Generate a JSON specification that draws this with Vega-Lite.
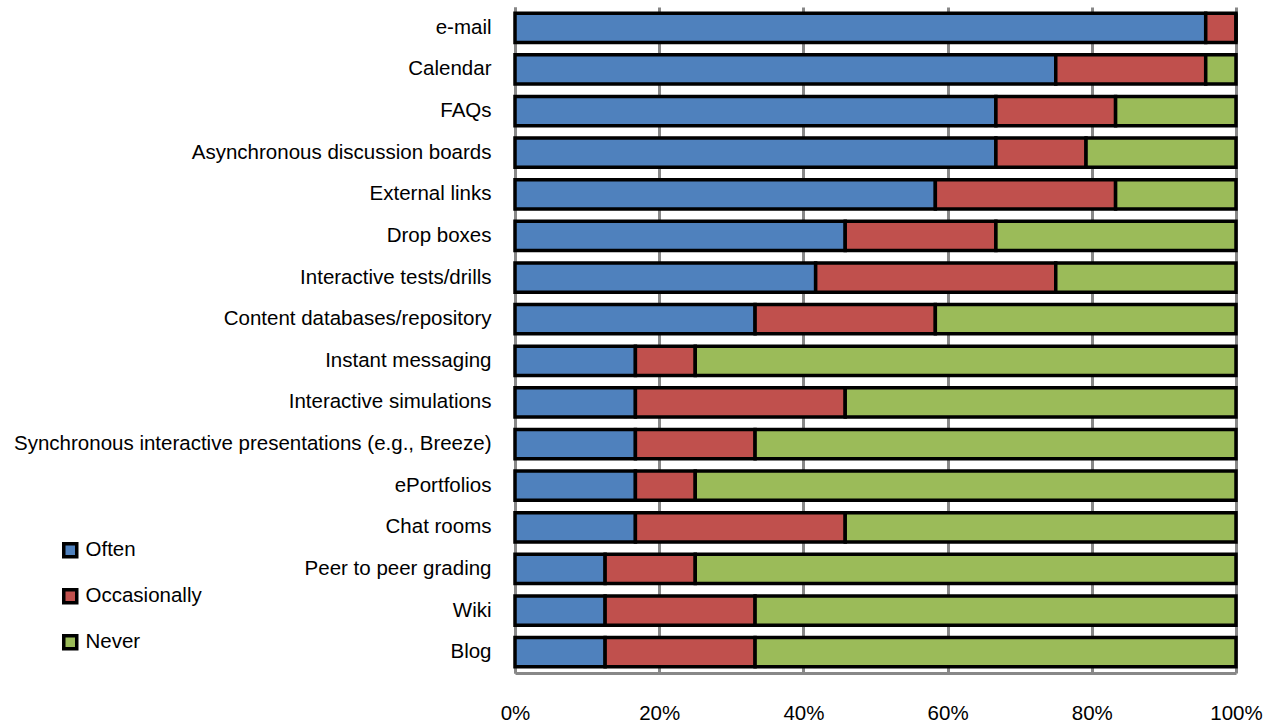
{
  "$schema": "https://vega.github.io/schema/vega-lite/v6.json",
  "width": 721,
  "height": 666,
  "autosize": {"type": "none"},
  "padding": {"left": 515, "top": 7, "right": 39, "bottom": 55},
  "config": {"view": {"stroke": null}, "font": "Liberation Sans"},
  "data": {"values": [
    {"tool": "e-mail", "freq": "Often", "o": 1, "pct": 95.8},
    {"tool": "e-mail", "freq": "Occasionally", "o": 2, "pct": 4.2},
    {"tool": "e-mail", "freq": "Never", "o": 3, "pct": 0},
    {"tool": "Calendar", "freq": "Often", "o": 1, "pct": 75},
    {"tool": "Calendar", "freq": "Occasionally", "o": 2, "pct": 20.8},
    {"tool": "Calendar", "freq": "Never", "o": 3, "pct": 4.2},
    {"tool": "FAQs", "freq": "Often", "o": 1, "pct": 66.7},
    {"tool": "FAQs", "freq": "Occasionally", "o": 2, "pct": 16.6},
    {"tool": "FAQs", "freq": "Never", "o": 3, "pct": 16.7},
    {"tool": "Asynchronous discussion boards", "freq": "Often", "o": 1, "pct": 66.7},
    {"tool": "Asynchronous discussion boards", "freq": "Occasionally", "o": 2, "pct": 12.5},
    {"tool": "Asynchronous discussion boards", "freq": "Never", "o": 3, "pct": 20.8},
    {"tool": "External links", "freq": "Often", "o": 1, "pct": 58.3},
    {"tool": "External links", "freq": "Occasionally", "o": 2, "pct": 25},
    {"tool": "External links", "freq": "Never", "o": 3, "pct": 16.7},
    {"tool": "Drop boxes", "freq": "Often", "o": 1, "pct": 45.8},
    {"tool": "Drop boxes", "freq": "Occasionally", "o": 2, "pct": 20.9},
    {"tool": "Drop boxes", "freq": "Never", "o": 3, "pct": 33.3},
    {"tool": "Interactive tests/drills", "freq": "Often", "o": 1, "pct": 41.7},
    {"tool": "Interactive tests/drills", "freq": "Occasionally", "o": 2, "pct": 33.3},
    {"tool": "Interactive tests/drills", "freq": "Never", "o": 3, "pct": 25},
    {"tool": "Content databases/repository", "freq": "Often", "o": 1, "pct": 33.3},
    {"tool": "Content databases/repository", "freq": "Occasionally", "o": 2, "pct": 25},
    {"tool": "Content databases/repository", "freq": "Never", "o": 3, "pct": 41.7},
    {"tool": "Instant messaging", "freq": "Often", "o": 1, "pct": 16.7},
    {"tool": "Instant messaging", "freq": "Occasionally", "o": 2, "pct": 8.3},
    {"tool": "Instant messaging", "freq": "Never", "o": 3, "pct": 75},
    {"tool": "Interactive simulations", "freq": "Often", "o": 1, "pct": 16.7},
    {"tool": "Interactive simulations", "freq": "Occasionally", "o": 2, "pct": 29.1},
    {"tool": "Interactive simulations", "freq": "Never", "o": 3, "pct": 54.2},
    {"tool": "Synchronous interactive presentations (e.g., Breeze)", "freq": "Often", "o": 1, "pct": 16.7},
    {"tool": "Synchronous interactive presentations (e.g., Breeze)", "freq": "Occasionally", "o": 2, "pct": 16.6},
    {"tool": "Synchronous interactive presentations (e.g., Breeze)", "freq": "Never", "o": 3, "pct": 66.7},
    {"tool": "ePortfolios", "freq": "Often", "o": 1, "pct": 16.7},
    {"tool": "ePortfolios", "freq": "Occasionally", "o": 2, "pct": 8.3},
    {"tool": "ePortfolios", "freq": "Never", "o": 3, "pct": 75},
    {"tool": "Chat rooms", "freq": "Often", "o": 1, "pct": 16.7},
    {"tool": "Chat rooms", "freq": "Occasionally", "o": 2, "pct": 29.1},
    {"tool": "Chat rooms", "freq": "Never", "o": 3, "pct": 54.2},
    {"tool": "Peer to peer grading", "freq": "Often", "o": 1, "pct": 12.5},
    {"tool": "Peer to peer grading", "freq": "Occasionally", "o": 2, "pct": 12.5},
    {"tool": "Peer to peer grading", "freq": "Never", "o": 3, "pct": 75},
    {"tool": "Wiki", "freq": "Often", "o": 1, "pct": 12.5},
    {"tool": "Wiki", "freq": "Occasionally", "o": 2, "pct": 20.8},
    {"tool": "Wiki", "freq": "Never", "o": 3, "pct": 66.7},
    {"tool": "Blog", "freq": "Often", "o": 1, "pct": 12.5},
    {"tool": "Blog", "freq": "Occasionally", "o": 2, "pct": 20.8},
    {"tool": "Blog", "freq": "Never", "o": 3, "pct": 66.7}
  ]},
  "mark": {"type": "bar", "stroke": "black", "strokeWidth": 3.5},
  "encoding": {
    "y": {
      "field": "tool", "type": "nominal", "sort": null,
      "scale": {"paddingInner": 0.3, "paddingOuter": 0.15},
      "axis": {"title": null, "labelFontSize": 20.5, "labelLimit": 0, "labelColor": "#000", "labelPadding": 24, "domainColor": "#888", "domainWidth": 3, "ticks": false}
    },
    "x": {
      "field": "pct", "type": "quantitative", "stack": "normalize",
      "scale": {"domain": [0, 1], "nice": false},
      "axis": {"title": null, "format": ".0%", "values": [0, 0.2, 0.4, 0.6, 0.8, 1], "labelFlush": false, "grid": true, "gridColor": "#888", "gridWidth": 3, "domainColor": "#888", "domainWidth": 3, "ticks": false, "labelPadding": 30, "labelFontSize": 20.5, "labelColor": "#000"}
    },
    "color": {
      "field": "freq", "type": "nominal",
      "scale": {"domain": ["Often", "Occasionally", "Never"], "range": ["#4F81BD", "#C0504D", "#9BBB59"]},
      "legend": {"title": null, "orient": "none", "legendX": -455, "legendY": 533, "symbolType": "square", "symbolSize": 169, "symbolStrokeWidth": 3.5, "symbolStrokeColor": "black", "symbolOpacity": 1, "labelFontSize": 20.5, "labelColor": "#000", "rowPadding": 18, "labelOffset": 5}
    },
    "order": {"field": "o"}
  }
}
